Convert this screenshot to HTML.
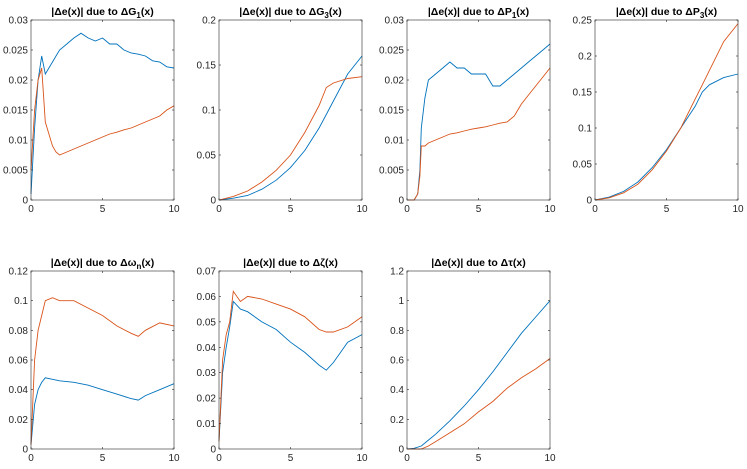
<!DOCTYPE html>
<html><head><meta charset="utf-8"><style>
body{margin:0;background:#fff}
svg{display:block;font-family:"Liberation Sans",sans-serif}
</style></head><body>
<svg id="fig" width="747" height="469" viewBox="0 0 747 469"></svg>
<script>
const xA=[0,0.25,0.5,0.75,1,1.25,1.5,1.75,2,2.5,3,3.5,4,4.5,5,5.5,6,6.5,7,7.5,8,8.5,9,9.5,10];
const g1Blue=[0.001,0.012,0.02,0.024,0.021,0.022,0.023,0.024,0.025,0.026,0.027,0.0278,0.027,0.0265,0.027,0.026,0.026,0.025,0.0245,0.0243,0.024,0.0232,0.023,0.0222,0.022];
const g1Orange=[0.005,0.015,0.02,0.022,0.013,0.011,0.009,0.008,0.0075,0.008,0.0085,0.009,0.0095,0.01,0.0105,0.011,0.0113,0.0117,0.012,0.0125,0.013,0.0135,0.014,0.015,0.0157];
const xB=[0,1,2,3,4,5,6,7,7.5,8,9,10];
const g3Blue=[0,0.002,0.005,0.012,0.022,0.036,0.055,0.08,0.095,0.11,0.14,0.16];
const g3Orange=[0,0.004,0.01,0.02,0.033,0.05,0.075,0.105,0.125,0.13,0.135,0.137];
const xC=[0,0.5,0.75,0.9,1,1.25,1.5,2,2.5,3,3.5,4,4.5,5,5.5,6,6.5,7,7.5,8,8.5,9,9.5,10];
const p1Blue=[0,0,0.001,0.005,0.012,0.017,0.02,0.021,0.022,0.023,0.022,0.022,0.021,0.021,0.021,0.019,0.019,0.02,0.021,0.022,0.023,0.024,0.025,0.026];
const p1Orange=[0,0,0.001,0.004,0.009,0.009,0.0095,0.01,0.0105,0.011,0.0112,0.0115,0.0118,0.012,0.0122,0.0125,0.0128,0.013,0.014,0.016,0.0175,0.019,0.0205,0.022];
const p3Blue=[0,0.004,0.012,0.025,0.045,0.07,0.1,0.13,0.15,0.16,0.17,0.175];
const p3Orange=[0,0.003,0.01,0.022,0.042,0.068,0.1,0.14,0.16,0.18,0.22,0.245];
const xD=[0,0.25,0.5,0.75,1,1.5,2,3,4,5,6,7,7.5,8,9,10];
const wnOrange=[0.003,0.06,0.08,0.09,0.1,0.102,0.1,0.1,0.095,0.09,0.083,0.078,0.076,0.08,0.085,0.083];
const wnBlue=[0.003,0.03,0.04,0.045,0.048,0.047,0.046,0.045,0.043,0.04,0.037,0.034,0.033,0.036,0.04,0.044];
const zOrange=[0.003,0.035,0.045,0.05,0.062,0.058,0.06,0.059,0.057,0.055,0.052,0.047,0.046,0.046,0.048,0.052];
const zBlue=[0.003,0.03,0.04,0.048,0.058,0.055,0.054,0.05,0.047,0.042,0.038,0.033,0.031,0.034,0.042,0.045];
const xE=[0,0.5,1,1.5,2,3,4,5,6,7,8,9,10];
const tBlue=[0,0.005,0.02,0.06,0.1,0.19,0.29,0.4,0.52,0.65,0.78,0.89,1.0];
const tOrange=[0,0,0,0.02,0.05,0.11,0.17,0.25,0.32,0.41,0.48,0.54,0.61];
const xTicks=[0,5,10];
const yT1=["0","0.005","0.01","0.015","0.02","0.025","0.03"];
const yT2=["0","0.05","0.1","0.15","0.2"];
const yT4=["0","0.05","0.1","0.15","0.2","0.25"];
const yT5=["0","0.02","0.04","0.06","0.08","0.1","0.12"];
const yT6=["0","0.01","0.02","0.03","0.04","0.05","0.06","0.07"];
const yT7=["0","0.2","0.4","0.6","0.8","1","1.2"];

const svg=document.getElementById('fig');
const NS='http://www.w3.org/2000/svg';
function mk(tag,attrs,parent){const e=document.createElementNS(NS,tag);for(const k in attrs)e.setAttribute(k,attrs[k]);parent.appendChild(e);return e;}
const plots=[
 {l:31,t:20,ymax:0.03,yt:yT1,title:'G',sub:'1',name:'g1',s:[[xA,g1Blue,'#0072BD'],[xA,g1Orange,'#D95319']]},
 {l:219,t:20,ymax:0.2,yt:yT2,title:'G',sub:'3',name:'g3',s:[[xB,g3Blue,'#0072BD'],[xB,g3Orange,'#D95319']]},
 {l:407,t:20,ymax:0.03,yt:yT1,title:'P',sub:'1',name:'p1',s:[[xC,p1Blue,'#0072BD'],[xC,p1Orange,'#D95319']]},
 {l:595,t:20,ymax:0.25,yt:yT4,title:'P',sub:'3',name:'p3',s:[[xB,p3Blue,'#0072BD'],[xB,p3Orange,'#D95319']]},
 {l:31,t:271,ymax:0.12,yt:yT5,title:'ω',sub:'n',name:'wn',s:[[xD,wnBlue,'#0072BD'],[xD,wnOrange,'#D95319']]},
 {l:219,t:271,ymax:0.07,yt:yT6,title:'ζ',sub:'',name:'zeta',s:[[xD,zBlue,'#0072BD'],[xD,zOrange,'#D95319']]},
 {l:407,t:271,ymax:1.2,yt:yT7,title:'τ',sub:'',name:'tau',s:[[xE,tBlue,'#0072BD'],[xE,tOrange,'#D95319']]}
];
const W=143;
plots.forEach(p=>{
 const H=p.t===20?180:178;
 const g=mk('g',{},svg);
 
 
 const X=v=>p.l+v/10*W, Y=v=>p.t+H-v/p.ymax*H;
 const bg=mk('rect',{x:p.l,y:p.t,width:W,height:H,fill:'#fff'},g);
 
 
 p.s.forEach((s,i)=>{
  const d=s[0].map((x,j)=>(j?'L':'M')+X(x).toFixed(1)+','+Y(s[1][j]).toFixed(1)).join('');
  const path=mk('path',{d:d,fill:'none',stroke:s[2],'stroke-width':0.9},g);
  
  
 });
 const box=mk('rect',{x:p.l,y:p.t,width:W,height:H,fill:'none',stroke:'#262626','stroke-width':0.6},g);
 
 
 xTicks.forEach(v=>{
  mk('line',{x1:X(v),x2:X(v),y1:p.t+H,y2:p.t+H-2,stroke:'#262626','stroke-width':0.6},g);
  mk('line',{x1:X(v),x2:X(v),y1:p.t,y2:p.t+2,stroke:'#262626','stroke-width':0.6},g);
  const t=mk('text',{x:X(v),y:p.t+H+12,'font-size':10,'text-anchor':'middle',fill:'#262626'},g);
  t.textContent=v;
  
  
 });
 p.yt.forEach((lab,i)=>{
  const yy=p.t+H-i*H/(p.yt.length-1);
  mk('line',{x1:p.l,x2:p.l+2,y1:yy,y2:yy,stroke:'#262626','stroke-width':0.6},g);
  mk('line',{x1:p.l+W,x2:p.l+W-2,y1:yy,y2:yy,stroke:'#262626','stroke-width':0.6},g);
  const t=mk('text',{x:p.l-3,y:yy+3.5,'font-size':10,'text-anchor':'end',fill:'#262626'},g);
  t.textContent=lab;
  
  
 });
 const tt=mk('text',{x:p.l+W/2,y:p.t-5,'font-size':10.5,'font-weight':'bold','text-anchor':'middle',fill:'#000'},g);
 
 
 tt.appendChild(document.createTextNode('|Δe(x)| due to Δ'+p.title));
 if(p.sub){const ts=mk('tspan',{'font-size':8,dy:3},tt);ts.textContent=p.sub;const t2=mk('tspan',{dy:-3},tt);t2.textContent='(x)';}
 else tt.appendChild(document.createTextNode('(x)'));
});
</script>
</body></html>
